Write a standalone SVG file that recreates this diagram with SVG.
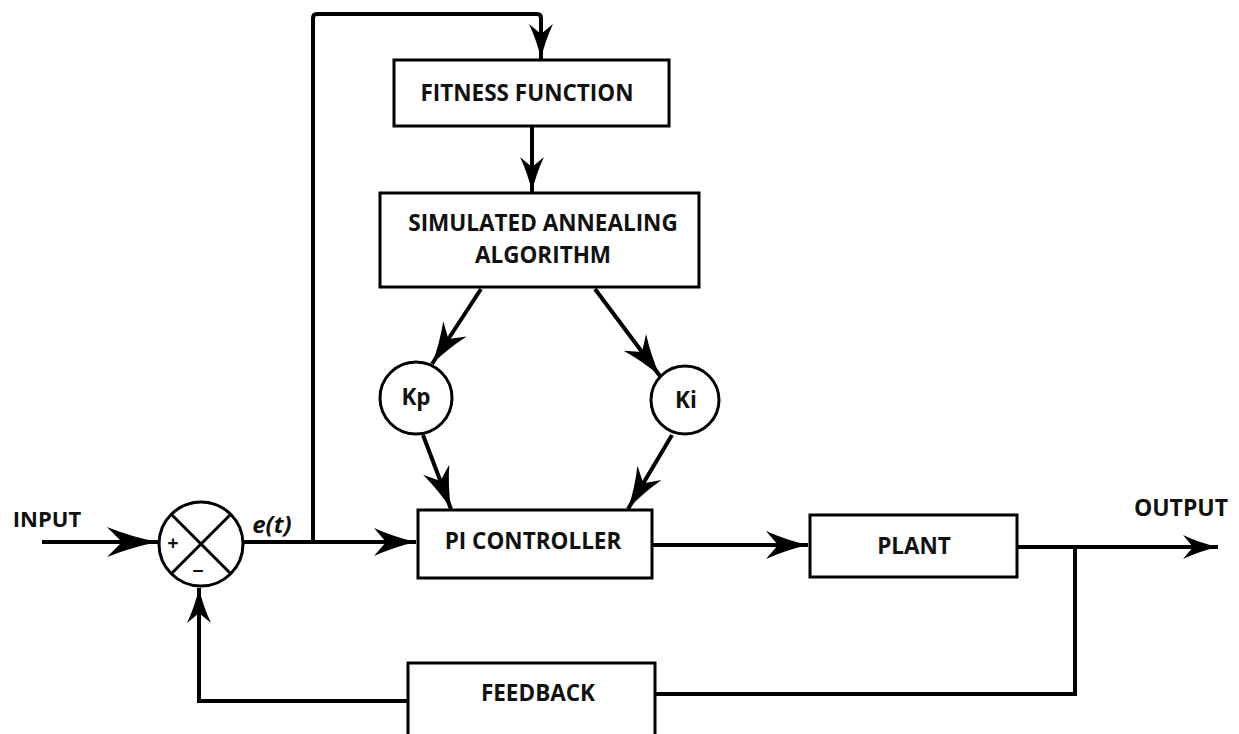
<svg xmlns="http://www.w3.org/2000/svg" width="1239" height="734" viewBox="0 0 1239 734">
<style>
.box{fill:#fff;stroke:#000;stroke-width:3}
.ln{fill:none;stroke:#000;stroke-width:4}
.t{font-family:"Open Sans","Liberation Sans",sans-serif;font-weight:bold;font-size:22.5px;fill:#111;text-anchor:middle}
</style>
<defs>
<marker id="ah" markerUnits="userSpaceOnUse" markerWidth="50" markerHeight="32" viewBox="-44 -16 46 32" refX="0" refY="0" orient="auto">
<path d="M0,0 Q-22,-5 -42,-14 L-30,0 L-42,14 Q-22,5 0,0 Z" fill="#000"/>
</marker>
<marker id="ahs" markerUnits="userSpaceOnUse" markerWidth="40" markerHeight="28" viewBox="-38 -14 40 28" refX="0" refY="0" orient="auto">
<path d="M0,0 Q-18,-4 -35,-12 L-25,0 L-35,12 Q-18,4 0,0 Z" fill="#000"/>
</marker>
<marker id="ahl" markerUnits="userSpaceOnUse" markerWidth="56" markerHeight="34" viewBox="-54 -17 56 34" refX="0" refY="0" orient="auto">
<path d="M0,0 Q-26,-5 -51,-15 L-36,0 L-51,15 Q-26,5 0,0 Z" fill="#000"/>
</marker>
</defs>

<g id="connectors">
<line class="ln" x1="42" y1="542" x2="158" y2="542" marker-end="url(#ahl)"/>
<line class="ln" x1="244" y1="542" x2="416" y2="542" marker-end="url(#ah)"/>
<path class="ln" d="M313,542 L313,18 Q313,14 317,14 L537,14 Q541,14 541,18 L541,59" marker-end="url(#ahs)"/>
<line class="ln" x1="532" y1="126" x2="532" y2="192" marker-end="url(#ahs)"/>
<line class="ln" x1="481" y1="289" x2="432" y2="364" marker-end="url(#ah)"/>
<line class="ln" x1="595" y1="289" x2="660" y2="376" marker-end="url(#ah)"/>
<line class="ln" x1="423" y1="435" x2="451" y2="509" marker-end="url(#ah)"/>
<line class="ln" x1="672" y1="435" x2="628" y2="509" marker-end="url(#ah)"/>
<line class="ln" x1="652" y1="545" x2="808" y2="545" marker-end="url(#ah)"/>
<line class="ln" x1="1017" y1="547" x2="1218" y2="547" marker-end="url(#ahs)"/>
<polyline class="ln" points="1075,547 1075,694 655,694"/>
<polyline class="ln" points="408,701 199,701 199,588" marker-end="url(#ahs)"/>
</g>

<g id="sum">
<circle cx="201" cy="544" r="42" fill="#fff" stroke="#000" stroke-width="3"/>
<line x1="171" y1="514" x2="231" y2="574" stroke="#000" stroke-width="3"/>
<line x1="231" y1="514" x2="171" y2="574" stroke="#000" stroke-width="3"/>
<text x="173" y="550" class="t" style="font-size:20px">+</text>
<text x="198" y="578" class="t" style="font-size:20px">−</text>
</g>

<g id="input-label"><text x="47" y="527" class="t" style="font-size:22px">INPUT</text></g>
<g id="et-label"><text x="272" y="533" class="t" style="font-style:italic;font-size:24px">e(t)</text></g>
<g id="output-label"><text x="1181" y="516" class="t" style="font-size:23px">OUTPUT</text></g>

<g id="fitness">
<rect class="box" x="394" y="60" width="275" height="66"/>
<text x="527" y="101" class="t">FITNESS FUNCTION</text>
</g>

<g id="sa">
<rect class="box" x="380" y="193" width="319" height="94"/>
<text x="543" y="231" class="t">SIMULATED ANNEALING</text>
<text x="543" y="263" class="t">ALGORITHM</text>
</g>

<g id="kp">
<circle cx="416" cy="398" r="36" fill="#fff" stroke="#000" stroke-width="3"/>
<text x="416" y="405" class="t">Kp</text>
</g>

<g id="ki">
<circle cx="685" cy="400" r="34" fill="#fff" stroke="#000" stroke-width="3"/>
<text x="686" y="408" class="t">Ki</text>
</g>

<g id="pi">
<rect class="box" x="418" y="510" width="234" height="68"/>
<text x="533" y="549" class="t">PI CONTROLLER</text>
</g>

<g id="plant">
<rect class="box" x="810" y="515" width="207" height="62"/>
<text x="914" y="554" class="t">PLANT</text>
</g>

<g id="feedback">
<rect class="box" x="408" y="663" width="247" height="80"/>
<text x="538" y="701" class="t">FEEDBACK</text>
</g>
</svg>
